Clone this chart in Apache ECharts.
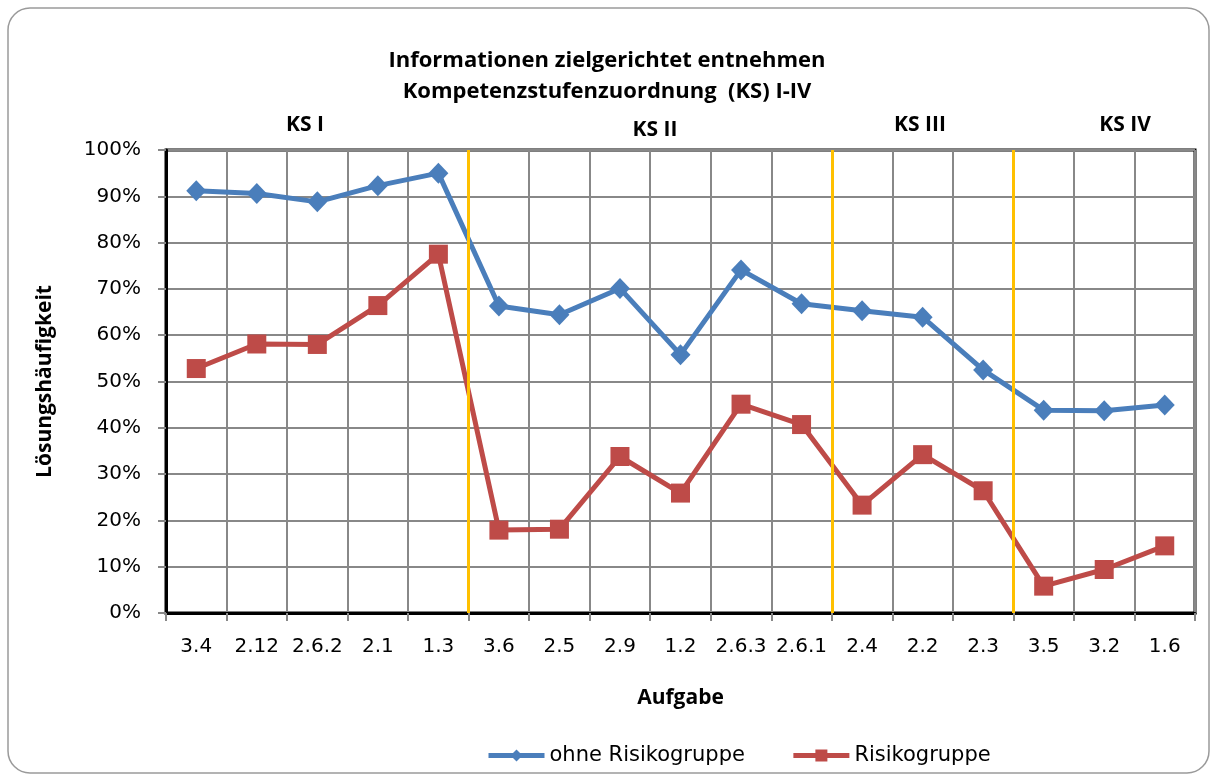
<!DOCTYPE html>
<html>
<head>
<meta charset="utf-8">
<style type="text/css">
    html, body { margin: 0; padding: 0; background: #fff; }
</style>
</head>
<body>
<div style="width: 1214px;height: 774px;" id="chart"></div>
<script src="https://cdn.jsdelivr.net/npm/echarts@6/dist/echarts.min.js"></script>
<script>

let categories = ['3.4', '2.12', '2.6.2', '2.1', '1.3', '3.6', '2.5', '2.9', '1.2', '2.6.3', '2.6.1', '2.4', '2.2', '2.3', '3.5', '3.2', '1.6'];
let ohneRisiko = [91.2, 90.6, 88.8, 92.3, 95.0, 66.3, 64.4, 70.1, 55.8, 74.1, 66.8, 65.3, 63.9, 52.5, 43.8, 43.7, 44.9];
let risiko = [52.8, 58.1, 58.0, 66.4, 77.5, 17.9, 18.1, 33.8, 25.9, 45.1, 40.7, 23.3, 34.2, 26.4, 5.8, 9.4, 14.5];
let ksBoundaries = [5, 11, 14];
let ksLabels = ['KS I', 'KS II', 'KS III', 'KS IV'];
let yTicks = [0, 10, 20, 30, 40, 50, 60, 70, 80, 90, 100];

let boldFont = '"Open Sans", "Noto Sans", sans-serif';
let font = '"DejaVu Sans", "Noto Sans", sans-serif';
let chart = echarts.init(document.getElementById('chart'));

// KS labels sit above the plot, roughly centered on their section
let ksPos = [[305, 125], [655, 130], [920, 125], [1125, 125]];
let ksText = ksLabels.map((t, i) => ({
    type: 'text',
    x: ksPos[i][0],
    y: ksPos[i][1],
    style: {text: t, font: 'bold 21px ' + boldFont, fill: '#000', align: 'center', verticalAlign: 'middle'}
}));

let option = {
    animation: false,
    backgroundColor: '#fff',
    textStyle: {fontFamily: font},
    title: {
        text: 'Informationen zielgerichtet entnehmen\nKompetenzstufenzuordnung  (KS) I-IV',
        left: 'center',
        top: 40,
        textStyle: {fontSize: 22, fontWeight: 'bold', lineHeight: 31, color: '#000', fontFamily: boldFont}
    },
    graphic: [{
        type: 'rect',
        shape: {x: 8, y: 8, width: 1201, height: 765, r: 22},
        style: {fill: 'none', stroke: '#9a9a9a', lineWidth: 1.5},
        silent: true
    }].concat(ksText),
    legend: {
        top: 740,
        left: 481,
        itemWidth: 56,
        itemHeight: 15,
        itemGap: 46,
        lineStyle: {width: 5},
        textStyle: {fontSize: 21, color: '#000', fontFamily: font},
        data: ['ohne Risikogruppe', 'Risikogruppe']
    },
    grid: {
        left: 166, top: 150, right: 19, bottom: 161,
        show: true, borderColor: '#000', borderWidth: 3, backgroundColor: '#fff'
    },
    xAxis: [{
        type: 'category',
        data: categories,
        name: 'Aufgabe',
        nameLocation: 'middle',
        nameGap: 75,
        nameTextStyle: {fontSize: 21, fontWeight: 'bold', color: '#000', fontFamily: boldFont},
        axisLine: {lineStyle: {color: '#000', width: 3}},
        axisTick: {show: true, length: 8, lineStyle: {color: '#888', width: 2}},
        axisLabel: {fontSize: 20, color: '#000', margin: 24, interval: 0},
        splitLine: {show: true, interval: 0, lineStyle: {color: '#888', width: 2}}
    }, {
        type: 'value',
        min: 0,
        max: categories.length,
        show: false
    }],
    yAxis: {
        type: 'value',
        min: 0,
        max: 100,
        interval: 10,
        name: 'Lösungshäufigkeit',
        nameLocation: 'middle',
        nameGap: 110,
        nameTextStyle: {fontSize: 21, fontWeight: 'bold', color: '#000', fontFamily: boldFont},
        axisLine: {show: true, lineStyle: {color: '#000', width: 3}},
        axisTick: {show: true, length: 8, lineStyle: {color: '#888', width: 2}},
        axisLabel: {fontSize: 20, color: '#000', margin: 25, formatter: v => yTicks.includes(v) ? v + '%' : ''},
        splitLine: {show: true, lineStyle: {color: '#888', width: 2}}
    },
    series: [{
        name: 'ohne Risikogruppe',
        type: 'line',
        data: ohneRisiko,
        symbol: 'diamond',
        symbolSize: [20, 21],
        itemStyle: {color: '#4a7ebb'},
        lineStyle: {color: '#4a7ebb', width: 5},
        z: 4
    }, {
        name: 'Risikogruppe',
        type: 'line',
        data: risiko,
        symbol: 'rect',
        symbolSize: 19,
        itemStyle: {color: '#be4b48'},
        lineStyle: {color: '#be4b48', width: 5},
        z: 4
    }, {
        name: 'ks',
        type: 'line',
        xAxisIndex: 1,
        data: [],
        markLine: {
            silent: true,
            symbol: 'none',
            label: {show: false},
            lineStyle: {color: '#ffc000', width: 3, type: 'solid'},
            data: ksBoundaries.map(b => ({xAxis: b}))
        },
        z: 3
    }]
};

chart.setOption(option);

</script>
</body>
</html>
